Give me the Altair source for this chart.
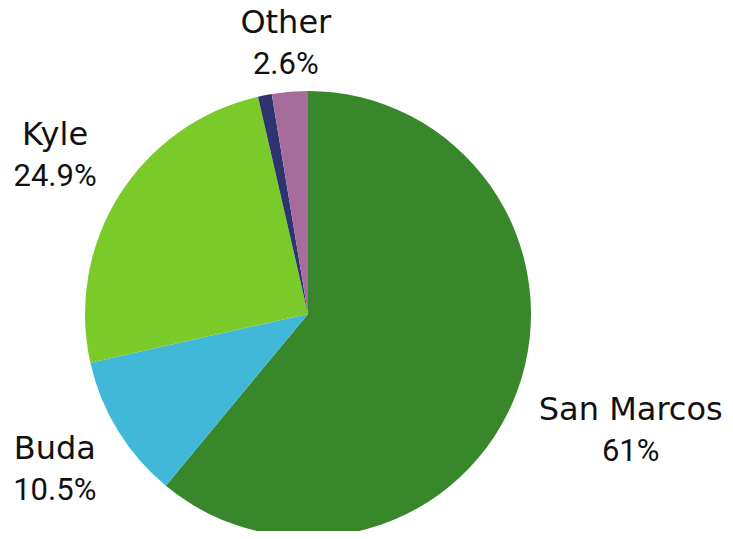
import altair as alt
import pandas as pd

cities = ["San Marcos", "Buda", "Kyle", "Unlabeled", "Other"]
shares = [61.0, 10.5, 24.9, 1.0, 2.6]
pct_labels = ["61%", "10.5%", "24.9%", "", "2.6%"]
colors = ["#38872B", "#42B8D8", "#7ACA29", "#2E3470", "#A66C9B"]

df = pd.DataFrame({
    "city": cities,
    "share": shares,
    "pct": pct_labels,
    "order": list(range(len(cities))),
})

cx, cy, R = 300, 296, 223
theta_scale = alt.Scale(domain=[0, 100])

pie = alt.Chart(df).mark_arc(outerRadius=R, stroke=None).encode(
    theta=alt.Theta("share:Q", stack=True, scale=theta_scale),
    order=alt.Order("order:Q"),
    x=alt.value(cx),
    y=alt.value(cy),
    color=alt.Color("city:N", scale=alt.Scale(domain=cities, range=colors), legend=None),
)

label_radius = {"San Marcos": 343, "Buda": 297, "Kyle": 299, "Other": 272}
layers = [pie]
for name, r in label_radius.items():
    src = (
        alt.Chart(df)
        .transform_window(cum="sum(share)", sort=[alt.SortField("order")])
        .transform_calculate(mid="datum.cum - datum.share / 2")
        .transform_filter(alt.datum.city == name)
        .encode(
            theta=alt.Theta("mid:Q", stack=False, scale=theta_scale),
            x=alt.value(cx),
            y=alt.value(cy),
        )
    )
    layers.append(
        src.mark_text(
            radius=r, dy=-20, fontSize=32, font="DejaVu Sans", color="#111111",
            align="center", baseline="middle",
        ).encode(text="city:N")
    )
    layers.append(
        src.mark_text(
            radius=r, dy=22, fontSize=31, font="Roboto", color="#111111",
            align="center", baseline="middle",
        ).encode(text="pct:N")
    )

chart = alt.layer(*layers).properties(
    width=717, height=513, autosize="none",
    padding={"top": 10, "left": 0, "right": 0, "bottom": 0},
).configure_view(stroke=None)

chart.save("out.html", embed_options={"renderer": "svg", "actions": False})
